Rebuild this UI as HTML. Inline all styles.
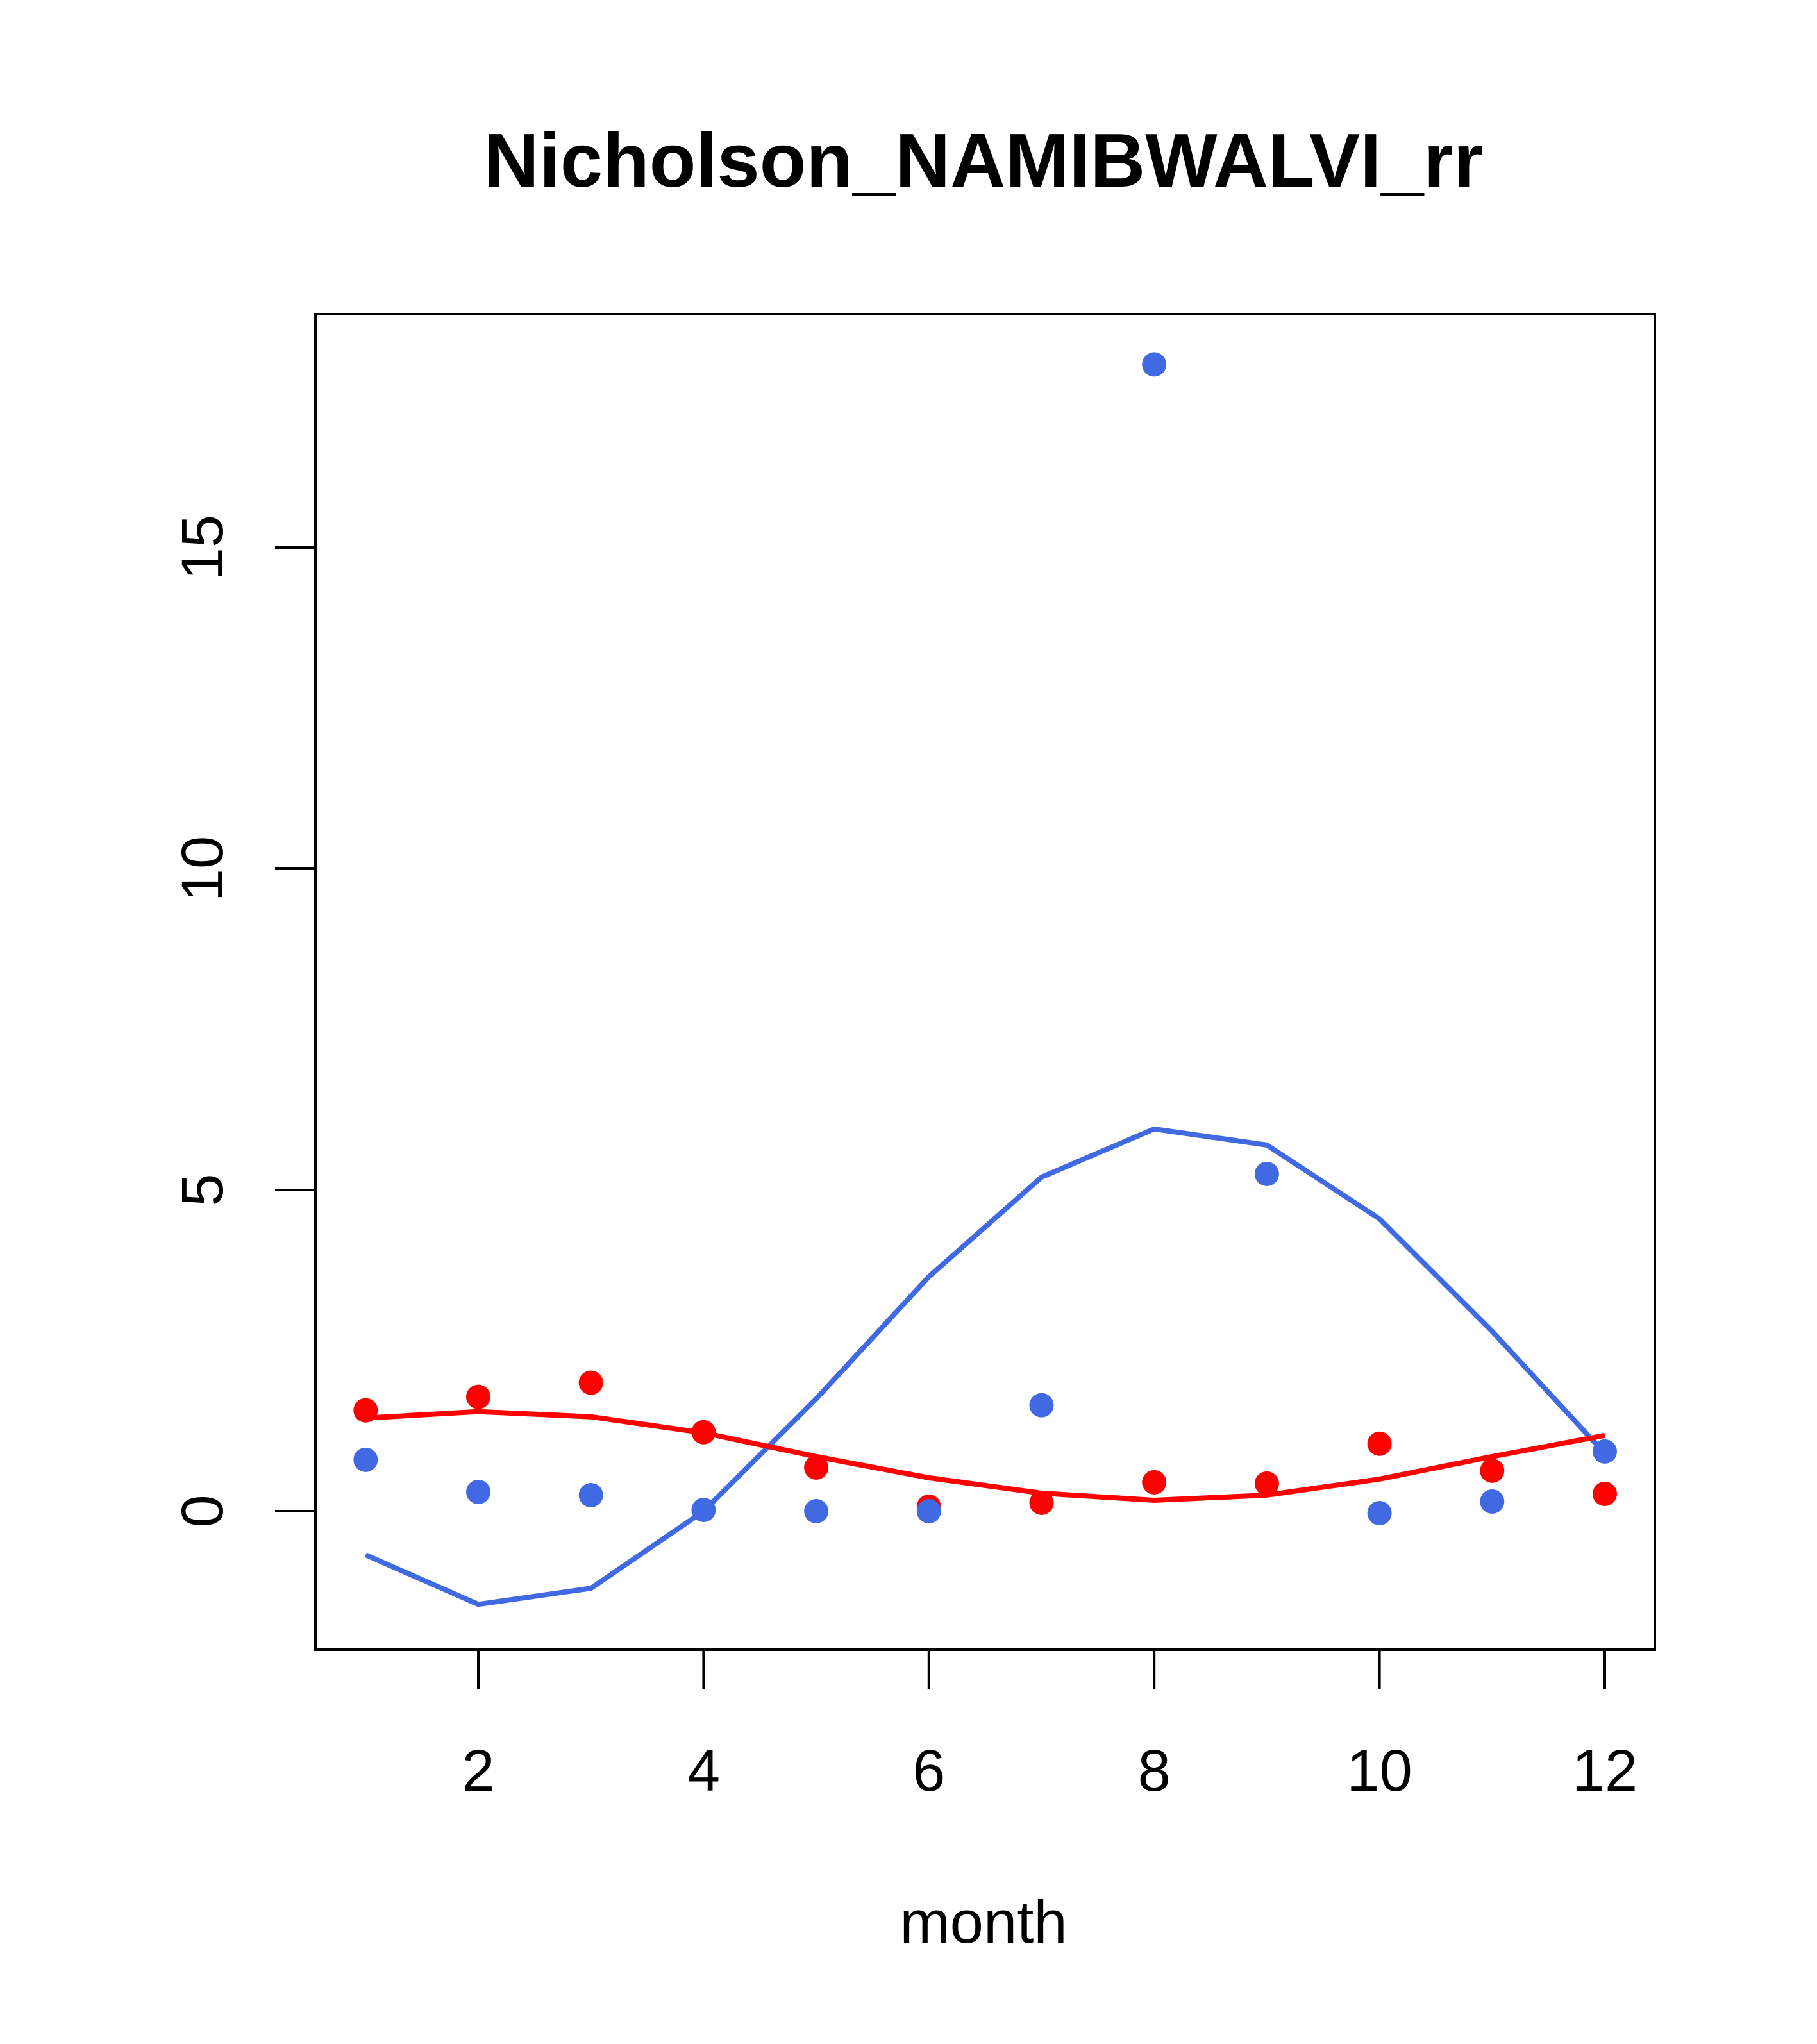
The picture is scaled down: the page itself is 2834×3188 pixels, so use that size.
<!DOCTYPE html>
<html><head><meta charset="utf-8"><style>html,body{margin:0;padding:0;background:#fff}svg{display:block}</style></head>
<body>
<svg id="chart" width="2834" height="3188" viewBox="0 0 2834 3188" xmlns="http://www.w3.org/2000/svg" font-family="'Liberation Sans', Arial, sans-serif">
<rect width="2834" height="3188" fill="#fff"/>
<text x="1534" y="291" font-size="119" font-weight="bold" text-anchor="middle">Nicholson_NAMIBWALVI_rr</text>
<rect x="492" y="490" width="2089" height="2083" fill="none" stroke="#000" stroke-width="4"/>
<text x="1534" y="3030" font-size="94" text-anchor="middle">month</text>
<g id="axes"></g>
<g id="marks"></g>
</svg>
<script>
const months = [1,2,3,4,5,6,7,8,9,10,11,12];
const blueObs = [0.8,0.3,0.25,0.02,0,0,1.65,17.85,5.25,-0.03,0.15,0.93];
const redObs = [1.57,1.78,2.0,1.23,0.68,0.07,0.13,0.45,0.43,1.05,0.63,0.27];
const blueFit = [-0.68,-1.45,-1.2,0.0,1.75,3.65,5.2,5.95,5.7,4.55,2.8,0.9];
const redFit = [1.45,1.55,1.47,1.22,0.85,0.52,0.28,0.17,0.25,0.5,0.85,1.18];
const xTicks = [2,4,6,8,10,12];
const yTicks = [0,5,10,15];

const NS = "http://www.w3.org/2000/svg";
const xs = m => 746 + (m - 2) * 175.7;
const ys = v => 2357 - v * 100.2;
function mk(tag, attrs, parent) {
  const e = document.createElementNS(NS, tag);
  for (const k in attrs) e.setAttribute(k, attrs[k]);
  parent.appendChild(e);
  return e;
}
const axes = document.getElementById('axes');
const marks = document.getElementById('marks');
xTicks.forEach(t => {
  const l = mk('line', {x1: xs(t), x2: xs(t), y1: 2573, y2: 2635, stroke: '#000', 'stroke-width': 4}, axes);
  
  
  const tx = mk('text', {x: xs(t), y: 2793, 'font-size': 92, 'text-anchor': 'middle'}, axes);
  tx.textContent = t;
  
  
});
yTicks.forEach(t => {
  const l = mk('line', {x1: 492, x2: 429, y1: ys(t), y2: ys(t), stroke: '#000', 'stroke-width': 4}, axes);
  
  
  const tx = mk('text', {x: 347, y: ys(t), 'font-size': 92, 'text-anchor': 'middle', transform: `rotate(-90 347 ${ys(t)})`}, axes);
  tx.textContent = t;
  
  
});
function line(vals, color, name) {
  const p = mk('polyline', {points: months.map((m, i) => xs(m) + ',' + ys(vals[i])).join(' '), fill: 'none', stroke: color, 'stroke-width': 8}, marks);
  
  
}
function pts(vals, color, name) {
  months.forEach((m, i) => {
    const c = mk('circle', {cx: xs(m), cy: ys(vals[i]), r: 19, fill: color}, marks);
    
    
  });
}
line(blueFit, '#4169E1', 'blue-fit-line');
line(redFit, '#FF0000', 'red-fit-line');
pts(redObs, '#FF0000', 'red-point');
pts(blueObs, '#4169E1', 'blue-point');
</script>
</body></html>
